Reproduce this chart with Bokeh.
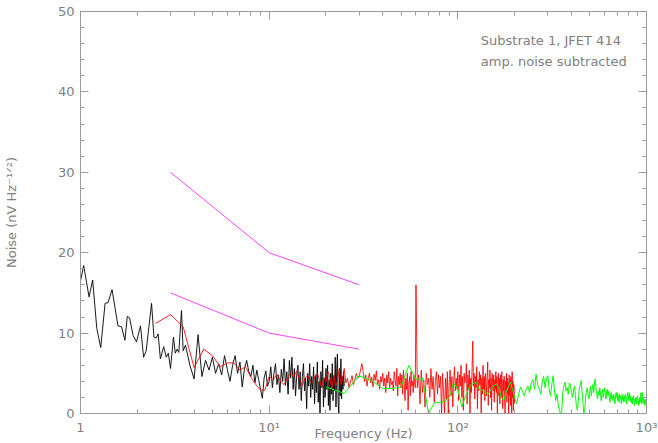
import numpy as np
from bokeh.plotting import figure
from bokeh.models import Range1d, LinearAxis, LogAxis, FixedTicker, Label
from bokeh.embed import file_html
from bokeh.resources import INLINE

# ---------------- data ----------------
# black trace, low-frequency part (explicit frequencies)
black_f_lo = [1.00, 1.04, 1.11, 1.16, 1.22, 1.28, 1.35, 1.40, 1.47, 1.58, 1.65, 1.72,
              1.77, 1.82, 1.90, 1.98, 2.08, 2.16, 2.23, 2.38, 2.45, 2.52, 2.58, 2.65,
              2.76, 2.85, 2.92, 3.00, 3.11, 3.18, 3.25, 3.32, 3.43, 3.50]
black_y_lo = [16.5, 18.4, 14.5, 16.6, 10.6, 8.2, 13.7, 13.8, 15.4, 10.9, 10.8, 9.1,
              12.1, 11.9, 9.7, 8.9, 10.9, 7.0, 7.8, 13.7, 9.5, 9.4, 9.9, 6.8,
              8.3, 7.0, 7.5, 5.6, 9.5, 7.5, 8.0, 7.6, 12.8, 7.8]
# black trace, 3.6 Hz .. 25 Hz in 0.2 Hz steps
black_hi_start, black_hi_step = 3.6, 0.2
black_y_hi = [
    8.5, 6.0, 4.3, 9.8, 4.6, 6.6, 5.4, 7.0, 5.0, 6.2,
    4.8, 7.2, 5.5, 4.0, 6.0, 7.2, 5.0, 6.4, 3.3, 5.6,
    6.6, 5.2, 4.6, 6.0, 3.8, 5.4, 4.2, 3.0, 1.9, 4.4,
    5.3, 3.4, 4.0, 5.8, 3.2, 5.0, 6.2, 3.6, 4.8, 2.6,
    5.5, 4.0, 6.8, 3.5, 5.2, 2.4, 6.6, 4.4, 7.0, 3.0,
    5.6, 2.2, 4.8, 6.0, 3.0, 5.2, 1.6, 4.6, 6.2, 2.8,
    4.4, 0.6, 5.0, 3.4, 6.2, 2.0, 4.6, 3.0, 5.8, 1.2,
    4.8, 2.6, 6.4, 1.4, 4.0, 0.0, 5.2, 3.2, 6.6, 0.8,
    4.4, 2.0, 5.6, 3.0, 6.0, 1.0, 4.2, 0.4, 5.0, 2.4,
    6.2, 1.6, 4.6, 2.8, 7.0, 0.8, 5.4, 7.4, 1.4, 0.0,
    5.6, 2.2, 6.8, 1.8, 4.6, 3.0, 5.2, 3.4,
]

# red trace: 2.5 .. 9.5 Hz (0.5 Hz), 10 .. 59.5 Hz (0.5 Hz), 60 .. 200 Hz (1 Hz)
red_lo_start, red_lo_step = 2.5, 0.5
red_y_lo = [11.2, 12.3, 10.8, 5.7, 8.0, 7.2, 5.8, 6.3, 6.3, 5.4, 5.8, 4.5, 3.6, 2.9, 2.9]
red_mid_start, red_mid_step = 10.0, 0.5
red_y_mid = [
    4.6, 4.2, 4.9, 4.0, 3.6, 4.4, 5.0, 4.6, 5.3, 4.1,
    3.5, 4.4, 4.8, 4.0, 3.8, 4.6, 5.0, 4.2, 3.2, 4.5,
    3.9, 5.2, 4.4, 3.0, 4.8, 3.4, 4.0, 5.5, 3.6, 4.2,
    5.6, 3.8, 4.4, 3.2, 4.0, 4.7, 3.6, 4.2, 5.0, 4.4,
    4.6, 5.4, 6.2, 5.2, 4.0, 4.8, 3.4, 4.4, 5.0, 3.8,
    4.5, 3.3, 4.9, 4.1, 5.3, 3.6, 4.2, 3.0, 4.6, 3.9,
    5.0, 3.4, 4.4, 2.6, 4.8, 3.8, 5.2, 3.2, 4.4, 3.6,
    4.0, 2.8, 5.2, 4.2, 3.4, 5.6, 2.2, 4.6, 3.6, 5.0,
    3.2, 4.8, 2.4, 5.4, 3.8, 1.6, 4.4, 3.0, 5.0, 0.4,
    3.6, 4.6, 2.2, 5.2, 3.4, 4.0, 2.6, 4.8, 3.8, 3.2,
]
red_hi_start, red_hi_step = 60.0, 1.0
red_y_hi = [
    16.0, 3.2, 4.8, 1.2, 5.4, 2.6, 4.2, 0.8, 5.0, 3.6,
    4.4, 2.0, 5.6, 3.0, 4.6, 1.4, 4.0, 5.2, 2.4, 4.8,
    3.2, 4.6, 0.0, 5.0, 2.6, 0.0, 4.4, 1.8, 5.2, 0.0,
    3.8, 5.4, 2.2, 4.6, 0.8, 4.0, 5.8, 2.8, 4.4, 3.0,
    5.2, 1.6, 4.8, 3.4, 6.0, 2.0, 4.6, 0.4, 5.0, 3.8,
    4.2, 6.2, 1.2, 4.8, 3.0, 5.4, 0.0, 4.4, 2.6, 5.6,
    9.0, 3.4, 5.0, 1.8, 4.6, 3.2, 5.8, 0.6, 4.2, 2.8,
    5.2, 3.6, 4.8, 0.0, 4.4, 2.4, 6.0, 3.0, 4.6, 1.6,
    5.0, 3.8, 2.2, 4.6, 6.4, 1.0, 4.2, 3.2, 5.4, 2.0,
    4.4, 0.4, 5.0, 3.6, 2.8, 4.8, 1.4, 4.2, 3.0, 5.2,
    2.6, 4.6, 0.0, 3.8, 5.0, 2.2, 4.4, 1.2, 3.6, 4.8,
    2.0, 5.2, 3.4, 0.6, 4.2, 2.8, 4.6, 1.8, 0.0, 4.0,
    3.0, 5.0, 1.4, 4.4, 2.4, 3.8, 0.0, 4.8, 2.2, 4.2,
    1.0, 4.6, 3.2, 0.0, 5.2, 2.0, 4.0, 0.4, 3.6, 2.6,
    1.2,
]

# green trace: 20 .. 1000 Hz in 5 Hz steps
green_start, green_step = 20.0, 5.0
green_y = [
    3.3, 2.5, 4.7, 4.1, 3.1, 3.1, 3.3, 6.0, 4.2, 4.4,
    0.0, 1.3, 1.4, 1.5, 2.0, 3.8, 3.0, 0.8, 2.2, 3.3,
    3.7, 3.9, 3.0, 2.9, 2.6, 2.4, 3.0, 3.4, 3.7, 3.2,
    2.0, 1.6, 2.6, 3.3, 3.9, 3.0, 2.0, 1.2, 2.4, 3.3,
    2.8, 2.2, 3.0, 3.4, 2.6, 3.8, 4.2, 3.0, 4.9, 3.6,
    3.1, 2.4, 3.9, 4.6, 3.2, 4.4, 4.7, 3.0, 2.2, 3.6,
    4.7, 3.0, 1.6, 2.4, 1.2, 0.4, 0.0, 0.2, 2.6, 3.4,
    3.9, 2.8, 3.2, 2.4, 3.8, 3.6, 2.6, 2.0, 2.8, 3.4,
    2.2, 1.0, 0.4, 1.6, 3.0, 3.6, 4.1, 2.8, 1.4, 0.0,
    0.2, 2.0, 2.6, 3.2, 2.4, 1.8, 2.8, 3.4, 2.2, 3.0,
    3.6, 2.6, 3.8, 4.3, 3.0, 2.4, 1.8, 2.8, 2.2, 3.2,
    2.6, 1.6, 2.4, 3.0, 2.0, 2.6, 3.2, 2.4, 1.8, 2.8,
    3.0, 2.2, 2.8, 2.0, 1.4, 2.4, 2.6, 1.8, 2.2, 1.6,
    2.4, 1.8, 1.2, 2.2, 2.6, 2.0, 2.6, 1.6, 2.2, 1.4,
    2.4, 1.8, 2.2, 1.2, 1.8, 2.4, 1.6, 2.0, 1.4, 2.2,
    1.8, 2.4, 1.6, 1.2, 2.0, 2.6, 2.2, 1.6, 2.6, 2.0,
    1.6, 2.2, 1.4, 1.8, 1.2, 2.0, 1.6, 2.2, 1.4, 1.0,
    1.8, 1.4, 2.0, 1.2, 1.6, 2.2, 1.8, 1.0, 1.6, 1.2,
    2.0, 1.4, 1.8, 2.6, 1.6, 1.2, 2.6, 1.8, 1.4, 2.0,
    1.2, 1.6, 1.0, 1.8, 1.4, 1.2, 1.6,
]

# magenta reference lines
mag_f = [3, 10, 30]
mag_hi = [30, 20, 16]
mag_lo = [15, 10, 8]

x_major = [1, 10, 100, 1000]
x_labels = {1: "1", 10: "10\u00b9", 100: "10\u00b2", 1000: "10\u00b3"}
y_major = [0, 10, 20, 30, 40, 50]
y_minor = [2, 4, 6, 8, 12, 14, 16, 18, 22, 24, 26, 28, 32, 34, 36, 38, 42, 44, 46, 48]
x_minor = [m * d for d in (1, 10, 100) for m in range(2, 10)]
x_title = "Frequency (Hz)"
y_title = "Noise (nV Hz\u207b\u00b9\u141f\u00b2)"
note_lines = ["Substrate 1, JFET 414", "amp. noise subtracted"]

def grid(start, step, vals):
    return [start + step * i for i in range(len(vals))]

black_f = black_f_lo + grid(black_hi_start, black_hi_step, black_y_hi)
black_y = black_y_lo + black_y_hi
red_f = (grid(red_lo_start, red_lo_step, red_y_lo) + grid(red_mid_start, red_mid_step, red_y_mid)
         + grid(red_hi_start, red_hi_step, red_y_hi))
red_y = red_y_lo + red_y_mid + red_y_hi
green_f = grid(green_start, green_step, green_y)

# ---------------- figure ----------------
FONT = "DejaVu Sans"
TXT = "#808080"
LINE = "#9a9a9a"

p = figure(width=658, height=443, x_axis_type="log",
           x_range=Range1d(1, 1000), y_range=Range1d(0, 50),
           output_backend="svg", toolbar_location=None,
           min_border_left=79, min_border_right=12, min_border_top=11, min_border_bottom=30)
p.grid.visible = False
p.outline_line_color = LINE
p.background_fill_color = "white"
p.border_fill_color = "white"

def style(ax, labels=True):
    ax.axis_line_color = LINE
    ax.major_tick_line_color = LINE
    ax.minor_tick_line_color = LINE
    ax.major_tick_in = 8
    ax.major_tick_out = 0
    ax.minor_tick_in = 4
    ax.minor_tick_out = 0
    ax.major_label_text_font = FONT
    ax.major_label_text_color = TXT
    ax.axis_label_text_font = FONT
    ax.axis_label_text_color = TXT
    ax.axis_label_text_font_style = "normal"
    ax.axis_label_text_font_size = "13px"
    if labels:
        ax.major_label_text_font_size = "13px"
        ax.major_label_standoff = 6
    else:
        ax.major_label_text_font_size = "1px"
        ax.major_label_text_alpha = 0
        ax.major_label_standoff = 0

xb = p.xaxis[0]
xb.ticker = FixedTicker(ticks=x_major, minor_ticks=x_minor)
xb.major_label_overrides = x_labels
style(xb)
xb.axis_label = x_title
xb.axis_label_standoff = -12

yl = p.yaxis[0]
yl.ticker = FixedTicker(ticks=y_major, minor_ticks=y_minor)
style(yl)
yl.axis_label = y_title
yl.axis_label_standoff = 36

xa = LogAxis(ticker=FixedTicker(ticks=x_major, minor_ticks=x_minor))
style(xa, labels=False)
p.add_layout(xa, "above")
yr = LinearAxis(ticker=FixedTicker(ticks=y_major, minor_ticks=y_minor))
style(yr, labels=False)
p.add_layout(yr, "right")

# ---------------- series ----------------
p.line(black_f, black_y, line_color="#000000", line_width=1, line_alpha=0.9)
p.line(red_f, red_y, line_color="#ff0000", line_width=1, line_alpha=0.85)
p.line(green_f, green_y, line_color="#00ff00", line_width=1)
p.line(mag_f, mag_hi, line_color="#ff44ff", line_width=1)
p.line(mag_f, mag_lo, line_color="#ff44ff", line_width=1)

# ---------------- note ----------------
for txt, yy in zip(note_lines, [46.4, 43.8]):
    p.add_layout(Label(x=132.4, y=yy, text=txt, text_font=FONT, text_font_size="13px",
                       text_color=TXT, text_align="left", text_baseline="alphabetic"))

open("out.html", "w").write(file_html(p, INLINE))
